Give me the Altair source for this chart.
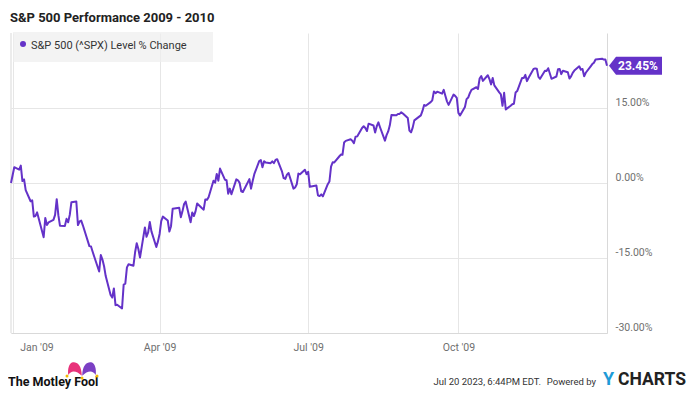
import altair as alt
import pandas as pd

# ---------------- data (percent change vs 2008-12-31 close) ----------------
START_DATE = "2008-12-31"
START_PCT = 0.0

JAN_DAYS = [2, 5, 6, 7, 8, 9, 12, 13, 14, 15, 16, 20, 21, 22, 23, 26, 27, 28, 29, 30]
JAN_PCT = [3.16, 2.68, 3.48, 0.38, 0.72, -1.43, -3.65, -3.48, -6.71, -6.59, -5.88,
           -10.85, -6.98, -8.39, -7.89, -7.38, -6.37, -3.23, -6.43, -8.57]
FEB_DAYS = [2, 3, 4, 5, 6, 9, 10, 11, 12, 13, 17, 18, 19, 20, 23, 24, 25, 26, 27]
FEB_PCT = [-8.61, -7.17, -7.86, -6.35, -3.84, -3.69, -8.42, -7.70, -7.53, -8.46,
           -12.63, -12.71, -13.76, -14.75, -17.70, -14.40, -15.32, -16.65, -18.62]
MAR_DAYS = [2, 3, 4, 5, 6, 9, 10, 11, 12, 13, 16, 17, 18, 19, 20, 23, 24, 25, 26, 27, 30, 31]
MAR_PCT = [-22.41, -22.91, -21.08, -24.43, -24.34, -25.10, -20.33, -20.14, -16.88, -16.24,
           -16.54, -13.85, -12.06, -13.20, -14.91, -8.89, -10.75, -9.89, -7.79, -9.67,
           -12.81, -11.67]
APR_DAYS = [1, 2, 3, 6, 7, 8, 9, 13, 14, 15, 16, 17, 20, 21, 22, 23, 24, 27, 28, 29, 30]
APR_PCT = [-10.20, -7.62, -6.73, -7.50, -9.71, -8.64, -5.17, -4.93, -6.84, -5.67, -4.20,
           -3.73, -7.85, -5.89, -6.61, -5.68, -4.10, -5.06, -5.32, -3.28, -3.37]
MAY_DAYS = [1, 4, 5, 6, 7, 8, 11, 12, 13, 14, 15, 18, 19, 20, 21, 22, 26, 27, 28, 29]
MAY_PCT = [-2.85, 0.44, 0.06, 1.80, 0.46, 2.88, 0.66, 0.56, -2.14, -1.13, -2.25, 0.72,
           0.54, 0.02, -1.65, -1.80, 0.78, -1.13, 0.40, 1.76]
JUN_DAYS = [1, 2, 3, 4, 5, 8, 9, 10, 11, 12, 15, 16, 17, 18, 19, 22, 23, 24, 25, 26, 29, 30]
JUN_PCT = [4.39, 4.59, 3.16, 4.34, 4.08, 3.97, 4.34, 3.97, 4.61, 4.76, 2.27, 0.97, 0.83,
           1.67, 1.99, -1.13, -0.90, -0.26, 1.88, 1.73, 2.65, 1.78]
JUL_DAYS = [1, 2, 6, 7, 8, 9, 10, 13, 14, 15, 16, 17, 20, 21, 22, 23, 24, 27, 28, 29, 30, 31]
JUL_PCT = [2.22, -0.76, -0.50, -2.46, -2.62, -2.28, -2.67, -0.24, 0.29, 3.26, 4.15, 4.11,
           5.30, 5.68, 5.63, 8.09, 8.42, 8.74, 8.46, 7.96, 9.24, 9.32]
AUG_DAYS = [3, 4, 5, 6, 7, 10, 11, 12, 13, 14, 17, 18, 19, 20, 21, 24, 25, 26, 27, 28, 31]
AUG_PCT = [11.00, 11.34, 11.01, 10.39, 11.87, 11.50, 10.09, 11.35, 12.12, 11.16, 8.47,
           9.57, 10.32, 11.53, 13.60, 13.54, 13.81, 13.82, 14.14, 13.91, 12.99]
SEP_DAYS = [1, 2, 3, 4, 8, 9, 10, 11, 14, 15, 16, 17, 18, 21, 22, 23, 24, 25, 28, 29, 30]
SEP_PCT = [10.49, 10.13, 11.07, 12.53, 13.52, 14.41, 15.60, 15.44, 16.17, 16.54, 18.32,
           17.96, 18.27, 17.87, 18.64, 17.45, 16.33, 15.63, 17.68, 17.42, 17.03]
OCT_DAYS = [1, 2, 5, 6, 7, 8, 9, 12, 13, 14, 15, 16, 19, 20, 21, 22, 23, 26, 27, 28, 29, 30]
OCT_PCT = [14.02, 13.50, 15.19, 16.77, 17.09, 17.96, 18.63, 19.15, 18.81, 20.90, 21.40,
           20.42, 21.55, 20.79, 19.72, 21.00, 19.52, 18.12, 17.73, 15.43, 18.03, 14.72]
NOV_DAYS = [2, 3, 4, 5, 6, 9, 10, 11, 12, 13, 16, 17, 18, 19, 20, 23, 24, 25, 27, 30]
NOV_PCT = [15.46, 15.74, 15.86, 18.09, 18.38, 21.02, 21.01, 21.62, 20.37, 21.06, 22.81,
           22.92, 22.87, 21.22, 20.83, 22.47, 22.41, 22.96, 20.84, 21.30]
DEC_DAYS = [1, 2, 3, 4, 7, 8, 9, 10, 11, 14, 15, 16, 17, 18, 21, 22, 23, 24, 28, 29, 30, 31]
DEC_PCT = [22.76, 22.81, 21.77, 22.44, 22.14, 20.89, 21.33, 22.04, 22.49, 23.34, 22.66,
           22.80, 21.35, 22.05, 23.34, 23.78, 24.06, 24.71, 24.86, 24.68, 24.71, 23.45]

MONTHS = [(1, JAN_DAYS, JAN_PCT), (2, FEB_DAYS, FEB_PCT), (3, MAR_DAYS, MAR_PCT),
          (4, APR_DAYS, APR_PCT), (5, MAY_DAYS, MAY_PCT), (6, JUN_DAYS, JUN_PCT),
          (7, JUL_DAYS, JUL_PCT), (8, AUG_DAYS, AUG_PCT), (9, SEP_DAYS, SEP_PCT),
          (10, OCT_DAYS, OCT_PCT), (11, NOV_DAYS, NOV_PCT), (12, DEC_DAYS, DEC_PCT)]

Y_TICKS = [-30, -15, 0, 15]
X_TICK_MONTHS = [1, 4, 7, 10]

TITLE = "S&P 500 Performance 2009 - 2010"
SERIES_NAME = "S&P 500 (^SPX) Level % Change"
FOOT_DATE = "Jul 20 2023, 6:44PM EDT."
FOOT_POWERED = "Powered by"

# ---------------- build table ----------------
dates = [START_DATE]
pcts = [START_PCT]
for m, days, vals in MONTHS:
    for d, v in zip(days, vals):
        dates.append(f"2009-{m:02d}-{d:02d}")
        pcts.append(v)
df = pd.DataFrame({"date": dates, "pct": pcts})
end_df = pd.DataFrame({"date": [dates[-1]], "pct": [pcts[-1]],
                       "label": [f"{pcts[-1]:.2f}%"]})

PURPLE = "#6432c8"
GRID = "#e6e6e6"
EDGE = "#d9d9d9"
LABEL = "#6f6f6f"
FONT = "Roboto"

x_axis = alt.Axis(
    values=[alt.DateTime(year=2009, month=m, date=1, utc=True) for m in X_TICK_MONTHS],
    labelExpr="utcFormat(datum.value, \"%b '%y\")",
    grid=True, gridColor=GRID, domain=True, domainColor=EDGE,
    ticks=False, tickSize=0, labelPadding=17, labelBaseline="alphabetic",
    labelColor=LABEL, labelFont=FONT, labelFontSize=10.5,
    labelFlush=5, labelFlushOffset=-7, title=None)

y_axis = alt.Axis(
    orient="right", values=Y_TICKS,
    labelExpr="(datum.value < 0 ? '-' : '') + format(abs(datum.value), '.2f') + '%'",
    grid=True, gridColor=GRID, domain=True, domainColor=EDGE,
    ticks=False, tickSize=0, labelPadding=8, labelAlign="left",
    labelBaseline="alphabetic", labelOffset=-3,
    labelColor=LABEL, labelFont=FONT, labelFontSize=10.5, title=None)

X = alt.X("date:T", axis=x_axis,
          scale=alt.Scale(type="utc", nice=False,
                          domain=[alt.DateTime(year=2008, month=12, date=31, utc=True),
                                  alt.DateTime(year=2009, month=12, date=31, utc=True)]))
Y = alt.Y("pct:Q", axis=y_axis, scale=alt.Scale(domain=[-30, 30], nice=False, zero=False))

line = alt.Chart(df).mark_line(color=PURPLE, strokeWidth=2, strokeJoin="round").encode(x=X, y=Y)

LABEL_PATH = "M0.2,0 L0.9,-0.9 L5.5,-0.9 L5.5,0.9 L0.9,0.9 Z"
end_box = alt.Chart(end_df).mark_point(
    shape=LABEL_PATH, size=400, filled=True, fill=PURPLE, opacity=1, strokeWidth=0
).encode(x=X, y=Y)
end_text = alt.Chart(end_df).mark_text(
    align="left", baseline="middle", dx=11, dy=0.5, color="white",
    font=FONT, fontSize=12, fontWeight="bold"
).encode(x=X, y=Y, text="label:N")

left_edge = alt.Chart(pd.DataFrame({"a": [0]})).mark_rule(color=EDGE, strokeWidth=1).encode(
    x=alt.value(0), y=alt.value(0), y2=alt.value(300))

title_df = pd.DataFrame({"t": [TITLE]})
title = alt.Chart(title_df).mark_text(
    align="left", baseline="alphabetic", font=FONT, fontSize=13, fontWeight="bold",
    color="#222222").encode(x=alt.value(-1), y=alt.value(-11), text="t:N")

legend_df = pd.DataFrame({"t": [SERIES_NAME]})
legend_box = alt.Chart(legend_df).mark_rect(color="#eeeeee", opacity=0.7).encode(
    x=alt.value(2), x2=alt.value(202), y=alt.value(-1), y2=alt.value(29))
legend_dot = alt.Chart(legend_df).mark_point(
    shape="circle", size=36, filled=True, color=PURPLE, opacity=1).encode(
    x=alt.value(12), y=alt.value(11))
legend_text = alt.Chart(legend_df).mark_text(
    align="left", baseline="alphabetic", font=FONT, fontSize=11, color="#333333").encode(
    x=alt.value(20), y=alt.value(15.5), text="t:N")

# footer: Motley Fool logo
fool_df = pd.DataFrame({"t": ["The Motley Fool"]})
fool_text = alt.Chart(fool_df).mark_text(
    align="left", baseline="alphabetic", font=FONT, fontSize=12.5, fontWeight="bold",
    color="#111111").encode(x=alt.value(-3), y=alt.value(352.5), text="t:N")
LOBE_L = "M0.9,0.9 C0.9,-0.6 0.2,-1.0 -0.3,-0.9 C-0.8,-0.8 -1,0 -0.9,0.8 C-0.5,0.1 0.2,0.2 0.9,0.9 Z"
LOBE_R = "M-0.9,0.9 C-0.9,-0.6 -0.2,-1.0 0.3,-0.9 C0.8,-0.8 1,0 0.9,0.8 C0.5,0.1 -0.2,0.2 -0.9,0.9 Z"
lobe_l = alt.Chart(fool_df).mark_point(shape=LOBE_L, size=225, filled=True, color="#e8327a",
                                       opacity=1).encode(x=alt.value(64), y=alt.value(336))
lobe_r = alt.Chart(fool_df).mark_point(shape=LOBE_R, size=225, filled=True, color="#7b3fc4",
                                       opacity=1).encode(x=alt.value(78), y=alt.value(336))
dots_df = pd.DataFrame({"dx": [56, 71, 86], "dy": [343, 345, 343]})
dots = alt.Chart(dots_df).mark_point(shape="circle", size=9, filled=True, color="#f3b800",
                                     opacity=1).encode(
    x=alt.X("dx:Q", scale=None), y=alt.Y("dy:Q", scale=None))

# footer: right side
foot_df = pd.DataFrame({"d": [FOOT_DATE], "p": [FOOT_POWERED], "y": ["Y"], "c": ["CHARTS"]})
foot_date = alt.Chart(foot_df).mark_text(
    align="right", baseline="alphabetic", font=FONT, fontSize=9.5, color="#333333").encode(
    x=alt.value(530), y=alt.value(352), text="d:N")
foot_pow = alt.Chart(foot_df).mark_text(
    align="right", baseline="alphabetic", font=FONT, fontSize=9.5, color="#333333").encode(
    x=alt.value(585), y=alt.value(352), text="p:N")
foot_y = alt.Chart(foot_df).mark_text(
    align="left", baseline="alphabetic", font=FONT, fontSize=18, fontWeight="bold",
    color="#1e9bd7").encode(x=alt.value(592), y=alt.value(352), text="y:N")
foot_c = alt.Chart(foot_df).mark_text(
    align="left", baseline="alphabetic", font=FONT, fontSize=17.5, fontWeight="bold",
    color="#222222").encode(x=alt.value(607), y=alt.value(352), text="c:N")

chart = alt.layer(
    left_edge, line, legend_box, legend_dot, legend_text, title,
    end_box, end_text, fool_text, lobe_l, lobe_r, dots,
    foot_date, foot_pow, foot_y, foot_c
).properties(
    width=596, height=300,
    padding={"left": 3, "top": 25, "right": 85, "bottom": 57},
    autosize=alt.AutoSizeParams(type="none"),
    background="white",
).configure_view(strokeWidth=0)

chart.save("out.html", embed_options={"renderer": "svg", "actions": False})
